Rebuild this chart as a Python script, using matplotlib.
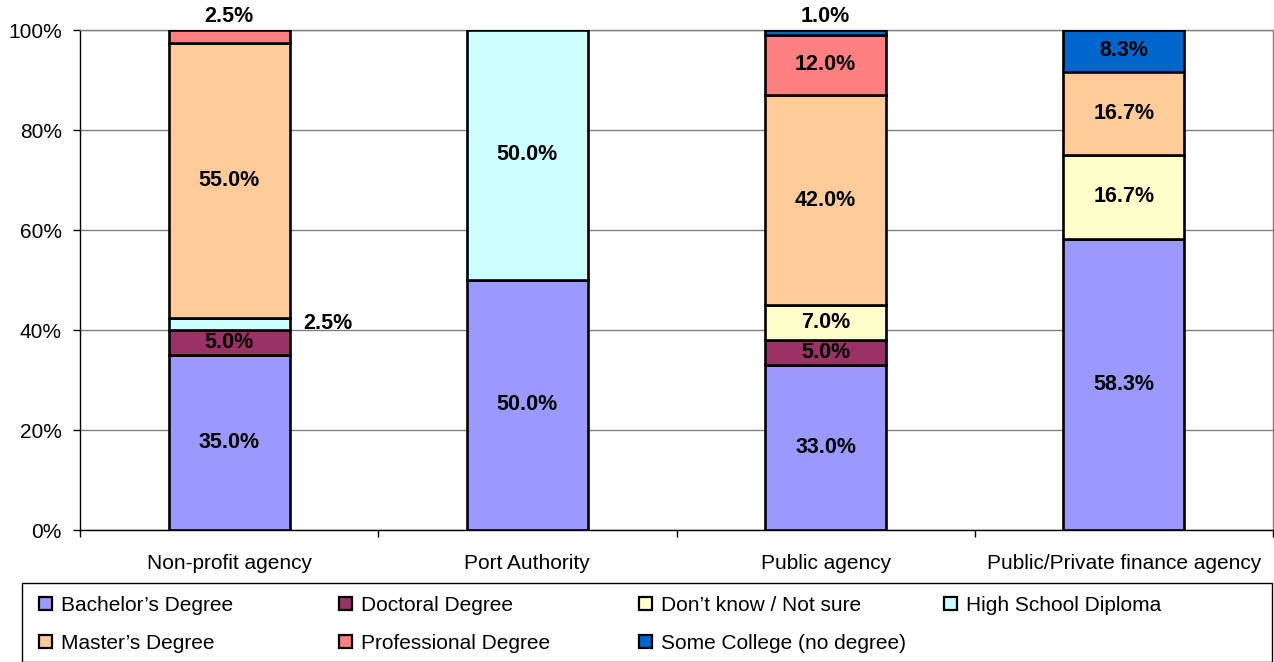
import matplotlib.pyplot as plt
from matplotlib.patches import Patch, Rectangle
import numpy as np

plt.rcParams['font.family'] = ['Liberation Sans', 'DejaVu Sans']

categories = ["Non-profit agency", "Port Authority", "Public agency", "Public/Private finance agency"]
series_names = ["Bachelor\u2019s Degree", "Doctoral Degree", "Don\u2019t know / Not sure", "High School Diploma",
                "Master\u2019s Degree", "Professional Degree", "Some College (no degree)"]
bachelor = [35.0, 50.0, 33.0, 58.3]
doctoral = [5.0, 0.0, 5.0, 0.0]
dont_know = [0.0, 0.0, 7.0, 16.7]
high_school = [2.5, 50.0, 0.0, 0.0]
master = [55.0, 0.0, 42.0, 16.7]
professional = [2.5, 0.0, 12.0, 0.0]
some_college = [0.0, 0.0, 1.0, 8.3]
colors = ["#9999FF", "#993366", "#FFFFCC", "#CCFFFF", "#FFCC99", "#FF8080", "#0066CC"]

series = [bachelor, doctoral, dont_know, high_school, master, professional, some_college]

fig = plt.figure(figsize=(12.74, 6.62), dpi=100)
ax = fig.add_axes([80/1274, 132/662, 1193/1274, 500/662])

x = np.arange(len(categories))
bottom = np.zeros(len(categories))
width = 0.405
lab_fs = 15.5
for vals, col in zip(series, colors):
    vals = np.array(vals)
    for i in range(len(categories)):
        if vals[i] <= 0:
            continue
        ax.bar(x[i], vals[i], width, bottom=bottom[i], color=col, edgecolor='black', linewidth=1.9, zorder=3)
        mid = bottom[i] + vals[i] / 2
        txt = "%.1f%%" % vals[i]
        if vals[i] >= 5:
            ax.text(x[i], mid, txt, ha='center', va='center', fontsize=lab_fs, fontweight='bold', zorder=4)
        elif bottom[i] + vals[i] >= 99.9:
            ax.text(x[i], 100.5, txt, ha='center', va='bottom', fontsize=lab_fs, fontweight='bold', zorder=4,
                    clip_on=False)
        else:
            ax.text(x[i] + width/2 + 0.045, mid, txt, ha='left', va='center', fontsize=lab_fs, fontweight='bold',
                    zorder=4)
    bottom += vals

ax.set_xlim(-0.5, len(categories) - 0.5)
ax.set_ylim(0, 100)
ax.set_yticks(np.arange(0, 101, 20))
ax.set_yticklabels(["%d%%" % v for v in range(0, 101, 20)], fontsize=15)
ax.set_xticks(x)
ax.set_xticklabels(categories, fontsize=15)
ax.set_xticks(np.arange(-0.5, len(categories)), minor=True)
ax.tick_params(axis='x', which='major', length=0, pad=17)
ax.tick_params(axis='x', which='minor', length=5, width=1, color='black')
ax.tick_params(axis='y', length=5, width=1, pad=8)
ax.grid(axis='y', color='#808080', linewidth=1, zorder=0)
for s in ['top', 'right']:
    ax.spines[s].set_color('#808080')
    ax.spines[s].set_linewidth(1)
for s in ['left', 'bottom']:
    ax.spines[s].set_color('black')
    ax.spines[s].set_linewidth(1)

# legend: four columns of equal width, row-wise order like the original
handles = [Patch(facecolor=c, edgecolor='black', linewidth=1.6) for c in colors]
col_items = [[0, 4], [1, 5], [2, 6], [3]]
col_x = [39, 339, 639, 944]
for items, cx in zip(col_items, col_x):
    lg = fig.legend([handles[i] for i in items], [series_names[i] for i in items],
                    loc='upper left', bbox_to_anchor=(cx/1274, 1 - 596/662), frameon=False,
                    fontsize=15, handlelength=0.6, handleheight=0.6, handletextpad=0.45,
                    borderaxespad=0, borderpad=0, labelspacing=0.9)
fig.patches.append(Rectangle((22/1274, 0), 1250/1274, 79/662, transform=fig.transFigure,
                             facecolor='none', edgecolor='black', linewidth=1))

fig.savefig("out.png", dpi=100)
